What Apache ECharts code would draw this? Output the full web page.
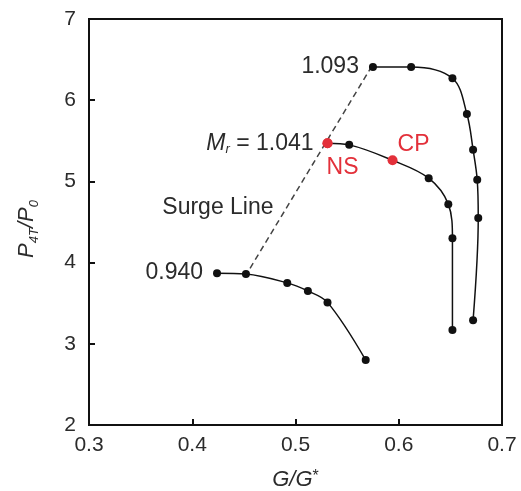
<!DOCTYPE html>
<html>
<head>
<meta charset="utf-8">
<script src="https://cdn.jsdelivr.net/npm/echarts@6/dist/echarts.min.js"></script>
<style>
  html, body { margin: 0; padding: 0; background: #fff; }
  #chart { width: 521px; height: 491px; }
</style>
</head>
<body>
<div id="chart"></div>
<script>
// speed lines, values
var mr1093 = [[0.575, 6.41], [0.612, 6.41], [0.652, 6.27], [0.666, 5.83], [0.672, 5.39], [0.676, 5.02], [0.677, 4.55], [0.672, 3.29]]
var mr1041 = [[0.531, 5.47], [0.552, 5.45], [0.594, 5.26], [0.629, 5.04], [0.648, 4.72], [0.652, 4.30], [0.652, 3.17]]
var mr0940 = [[0.424, 3.87], [0.452, 3.86], [0.492, 3.75], [0.512, 3.65], [0.531, 3.51], [0.568, 2.80]]
var surge = [[0.456, 3.93], [0.573, 6.40]]
var surgeText = [[0.371, 4.68]]

var xTicks = [0.3, 0.4, 0.5, 0.6, 0.7]
var yTicks = [2, 3, 4, 5, 6, 7]

var FONT = 'Liberation Sans, Arial, sans-serif'
var TXT = '#2b2b2b'
var RED = '#e3303a'
var LBL = 23

var chart = echarts.init(document.getElementById('chart'))

function blackLine(data){
    return {
        type: 'line',
        data: data,
        smooth: 0.35,
        symbol: 'circle',
        symbolSize: 8,
        lineStyle: { color: '#111', width: 1.5 },
        itemStyle: { color: '#111' },
        z: 3
    }
}

var line1093 = blackLine(mr1093)
line1093.data = mr1093.map(function(p, i){
    if (i !== 0) return p
    return { value: p, label: { show: true, position: 'left', distance: 10, formatter: '1.093' } }
})

var line1041 = blackLine(mr1041)
line1041.data = mr1041.map(function(p, i){
    if (i === 0) return {
        value: p, symbolSize: 10, itemStyle: { color: RED },
        label: { show: true, position: 'left', distance: 9,
            formatter: '{i|M}{s|r}{n| = 1.041}',
            rich: {
                i: { fontStyle: 'italic', fontSize: LBL, color: TXT, fontFamily: FONT, lineHeight: 26 },
                s: { fontStyle: 'italic', fontSize: 13, color: TXT, fontFamily: FONT, verticalAlign: 'bottom', lineHeight: 12 },
                n: { fontSize: LBL, color: TXT, fontFamily: FONT, lineHeight: 26 }
            } }
    }
    if (i === 2) return {
        value: p, symbolSize: 10, itemStyle: { color: RED },
        label: { show: true, position: 'top', distance: 3, offset: [21, 4], formatter: 'CP', color: RED }
    }
    return p
})

var line0940 = blackLine(mr0940)
line0940.data = mr0940.map(function(p, i){
    if (i !== 0) return p
    return { value: p, label: { show: true, position: 'left', distance: 10, formatter: '0.940' } }
})

var option = {
    animation: false,
    textStyle: { fontFamily: FONT },
    grid: { left: 89, right: 19, top: 19, bottom: 66, containLabel: false, outerBoundsMode: 'none', show: true, borderColor: '#111', borderWidth: 2, backgroundColor: 'transparent' },
    xAxis: {
        type: 'value', min: 0.3, max: 0.7, interval: 0.1,
        name: '{i|G/G}{s|*}', nameLocation: 'middle', nameGap: 44,
        nameTextStyle: { rich: {
            i: { fontStyle: 'italic', fontSize: 22, color: TXT, fontFamily: FONT },
            s: { fontSize: 16, color: TXT, fontFamily: FONT, verticalAlign: 'top', lineHeight: 14 }
        } },
        axisLine: { show: true, lineStyle: { color: '#111', width: 2 } },
        axisTick: { show: true, inside: true, length: 6, lineStyle: { color: '#111', width: 2 } },
        axisLabel: { fontSize: 21, color: TXT, margin: 10, formatter: function(v){ return xTicks.indexOf(Math.round(v * 10) / 10) >= 0 ? v.toFixed(1) : '' } },
        splitLine: { show: false }
    },
    yAxis: {
        type: 'value', min: 2, max: 7, interval: 1,
        name: '{i|P}{s|4T}{i|/P}{s|0}', nameLocation: 'middle', nameGap: 48, nameRotate: 90,
        nameTextStyle: { padding: [0, 14, 0, 0], rich: {
            i: { fontStyle: 'italic', fontSize: 22, color: TXT, fontFamily: FONT, lineHeight: 28 },
            s: { fontStyle: 'italic', fontSize: 13, color: TXT, fontFamily: FONT, verticalAlign: 'bottom', lineHeight: 12 }
        } },
        axisLine: { show: true, lineStyle: { color: '#111', width: 2 } },
        axisTick: { show: true, inside: true, length: 6, lineStyle: { color: '#111', width: 2 } },
        axisLabel: { fontSize: 21, color: TXT, margin: 13, formatter: function(v){ return yTicks.indexOf(v) >= 0 ? String(v) : '' } },
        splitLine: { show: false }
    },
    series: [
        {
            type: 'line',
            data: surge,
            symbol: 'none',
            lineStyle: { color: '#444', width: 1.5, type: [6, 4] },
            z: 2
        },
        line1093, line1041, line0940,
        {
            type: 'scatter',
            data: [{ value: mr1041[0], label: { show: true, position: 'bottom', distance: 3, offset: [15, 5], formatter: 'NS', color: RED } }],
            symbolSize: 10,
            itemStyle: { color: RED, opacity: 1 },
            z: 6
        },
        {
            type: 'scatter',
            data: surgeText,
            symbolSize: 0,
            itemStyle: { opacity: 1 },
            label: { show: true, position: 'right', distance: 0, formatter: 'Surge Line' },
            z: 4
        }
    ]
}

// shared label look for data labels
option.series.forEach(function(s){
    s.label = Object.assign({ fontSize: LBL, color: TXT, fontFamily: FONT }, s.label || {})
})
line1093.data[0].label.fontSize = LBL
line0940.data[0].label.fontSize = LBL

chart.setOption(option)
</script>
</body>
</html>
